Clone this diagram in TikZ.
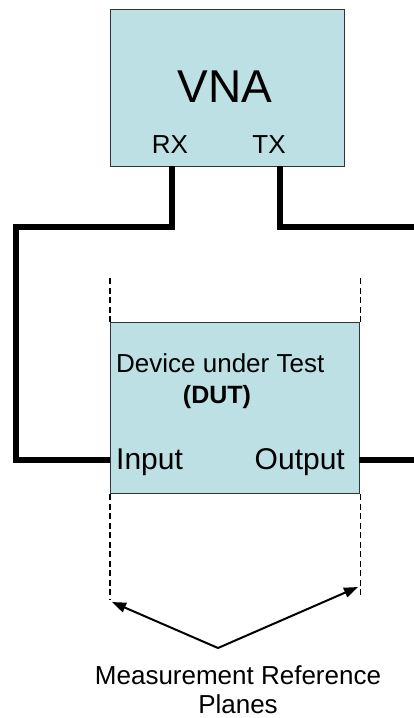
\documentclass[tikz,border=0pt]{standalone}
\usepackage{fontspec}
\setmainfont{Liberation Sans}
\usetikzlibrary{arrows.meta}
\definecolor{boxcyan}{RGB}{188,224,228}

\begin{document}
\begin{tikzpicture}[
  x=1pt, y=-1pt,
  instrument/.style={rectangle, draw=black!80, fill=boxcyan, line width=1.2pt, anchor=north west, inner sep=0pt},
  caption/.style={inner sep=0pt, font=\fontsize{26}{29}\selectfont},
  porttext/.style={inner sep=0pt, font=\fontsize{30}{36}\selectfont},
  cable/.style={line width=5.5pt},
  refplane/.style={line width=1.2pt, dash pattern=on 6pt off 3.5pt},
  pointer/.style={line width=2pt, -{Triangle[length=14pt,width=10pt]}}
]
\useasboundingbox (0,0) rectangle (414,718);

% Analyser
\node[instrument, minimum width=234pt, minimum height=157pt] (vna) at (110,9) {};
\node[inner sep=0pt, anchor=base, font=\fontsize{46}{50}\selectfont] (vnaname) at (225,102) {VNA};
\node[caption, anchor=base] (rx) at (170,153) {RX};
\node[caption, anchor=base] (tx) at (269,153) {TX};

% Device
\node[instrument, minimum width=249pt, minimum height=171pt] (dut) at (110,322) {};
\node[caption, anchor=base west] (dutname) at (116,372) {Device under Test};
\node[caption, anchor=base, font=\fontsize{25}{29}\selectfont\bfseries] (dutabbr) at (217,403) {(DUT)};
\node[porttext, anchor=base west] (input) at (116,469) {Input};
\node[porttext, anchor=base east] (output) at (345,469) {Output};

\coordinate (rxport) at (172,166);
\coordinate (txport) at (280,166);
\coordinate (inport) at (110,460);
\coordinate (outport) at (359,460);

% Cables
\draw[cable] (rxport) |- (16,227) |- (inport);
\draw[cable] (txport) |- (414,227);
\draw[cable] (outport) -- (414,460);

% Reference planes
\draw[refplane] (dut.north west) -- ++(0,-47);
\draw[refplane] (dut.north east) -- ++(0,-47);
\draw[refplane] (dut.south west) -- ++(0,105);
\draw[refplane] (dut.south east) -- ++(0,102);

\coordinate (apex) at (218,648);
\coordinate (inplane) at (112,602);
\coordinate (outplane) at (358,587);
\draw[pointer] (apex) -- (inplane);
\draw[pointer] (apex) -- (outplane);
\node[caption, align=center, anchor=base] (planes) at (238,713) {Measurement Reference\\Planes};
\end{tikzpicture}
\end{document}
